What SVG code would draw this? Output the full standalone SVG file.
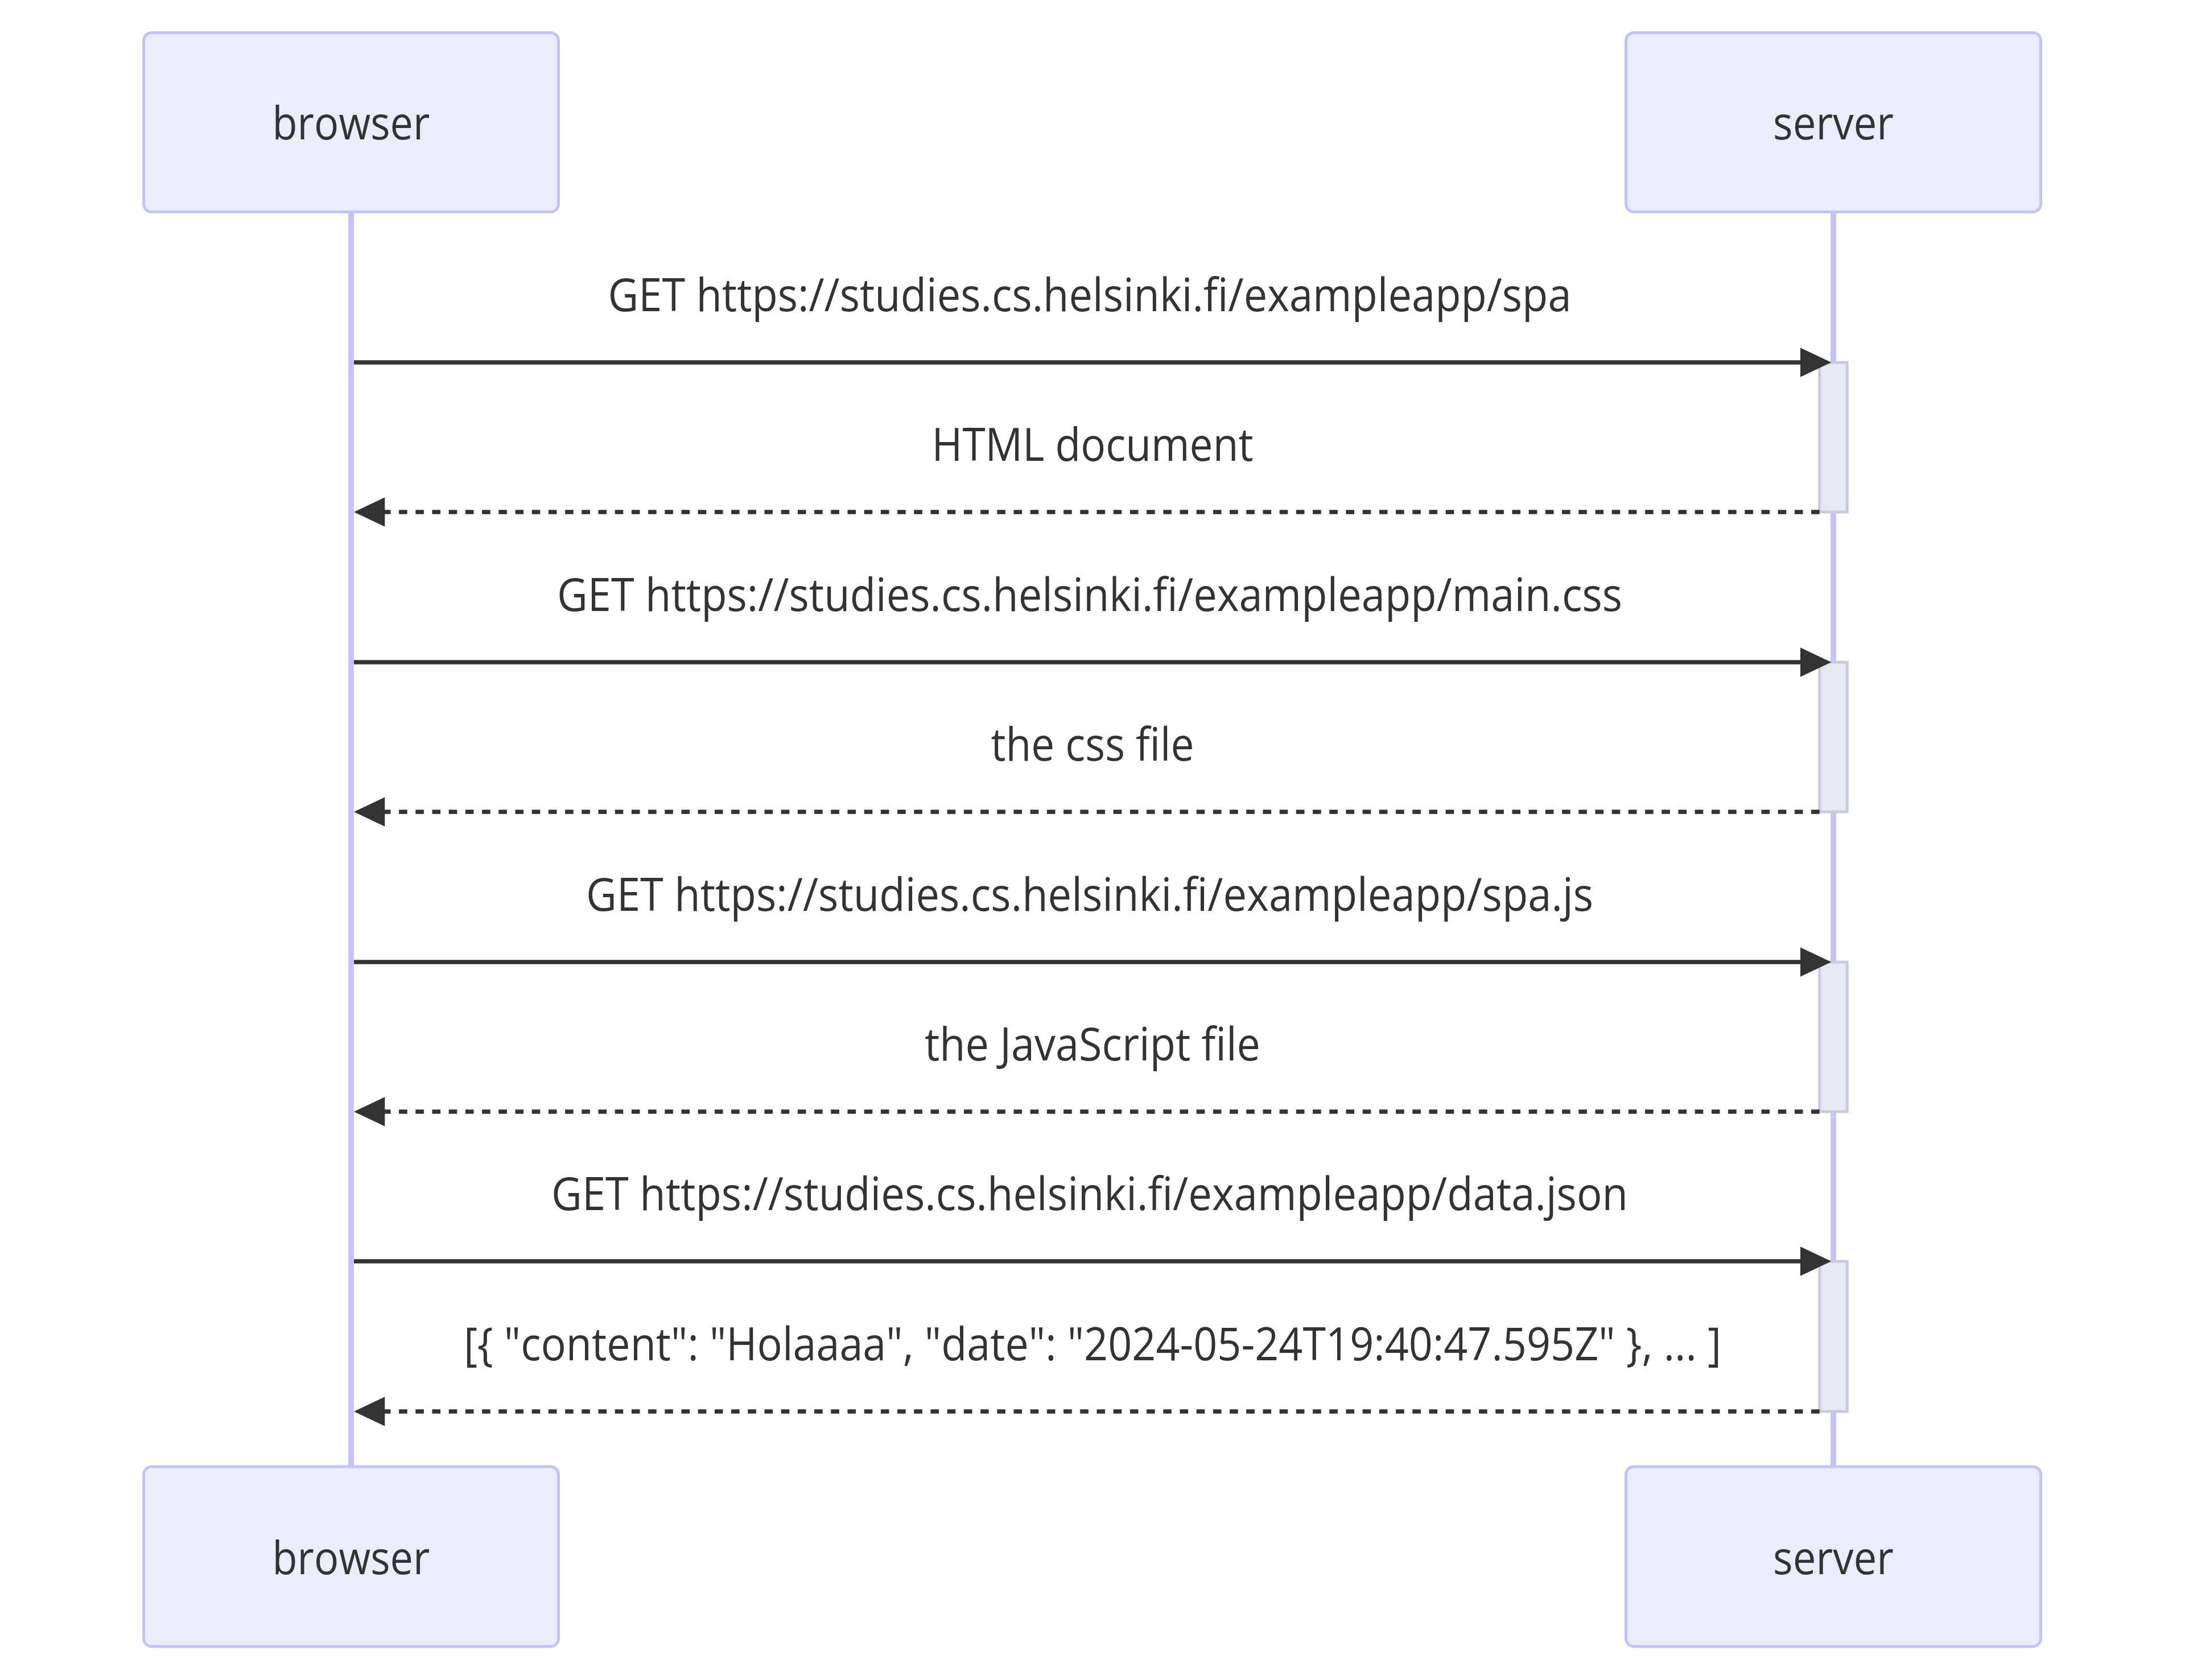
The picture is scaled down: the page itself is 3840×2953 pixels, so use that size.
<svg xmlns="http://www.w3.org/2000/svg" width="3840" height="2953" viewBox="0 0 3840 2953">
  <style>
    .actor { fill: #ECECFF; stroke: #C3C3F7; stroke-width: 4.9; }
    .actor-label { font-family: "Open Sans", "Noto Sans", sans-serif; font-size: 80px; fill: #333333; text-anchor: middle; }
    .lifeline { stroke: #C3C3F7; stroke-width: 9.7; fill: none; }
    .activation { fill: #E8E8F3; stroke: #CACADE; stroke-width: 4.9; }
    .msg { stroke: #333333; stroke-width: 7.3; fill: none; marker-end: url(#arrowhead); }
    .msg-dashed { stroke-dasharray: 14.6 14.6; }
    .msg-label { font-family: "Open Sans", "Noto Sans", sans-serif; font-size: 80px; fill: #333333; text-anchor: middle; }
  </style>
  <defs>
    <marker id="arrowhead" markerUnits="userSpaceOnUse" markerWidth="60" markerHeight="60" refX="41" refY="25.7" orient="auto" overflow="visible">
      <path d="M 0 0 L 54.3 25.7 L 0 51.4 z" fill="#333333"/>
    </marker>
  </defs>

  <rect width="3840" height="2953" fill="#FFFFFF"/>

  <!-- lifelines -->
  <g id="lifelines">
    <line class="lifeline" x1="617" y1="375" x2="617" y2="2578"/>
    <line class="lifeline" x1="3222" y1="375" x2="3222" y2="2578"/>
  </g>

  <!-- participants, top row -->
  <g id="actor-browser-top">
    <rect class="actor" x="252.5" y="57.5" width="729" height="315" rx="14" ry="14"/>
    <text class="actor-label" x="617" y="245" textLength="277" lengthAdjust="spacingAndGlyphs">browser</text>
  </g>
  <g id="actor-server-top">
    <rect class="actor" x="2857.5" y="57.5" width="729" height="315" rx="14" ry="14"/>
    <text class="actor-label" x="3222" y="245" textLength="212" lengthAdjust="spacingAndGlyphs">server</text>
  </g>

  <!-- participants, bottom row -->
  <g id="actor-browser-bottom">
    <rect class="actor" x="252.5" y="2578" width="729" height="316" rx="14" ry="14"/>
    <text class="actor-label" x="617" y="2766.5" textLength="277" lengthAdjust="spacingAndGlyphs">browser</text>
  </g>
  <g id="actor-server-bottom">
    <rect class="actor" x="2857.5" y="2578" width="729" height="316" rx="14" ry="14"/>
    <text class="actor-label" x="3222" y="2766.5" textLength="212" lengthAdjust="spacingAndGlyphs">server</text>
  </g>

  <!-- server activations -->
  <g id="activations">
    <rect class="activation" x="3197.7" y="637" width="48.6" height="263"/>
    <rect class="activation" x="3197.7" y="1164" width="48.6" height="263"/>
    <rect class="activation" x="3197.7" y="1691" width="48.6" height="263"/>
    <rect class="activation" x="3197.7" y="2217" width="48.6" height="264"/>
  </g>

  <!-- messages -->
  <g id="connectors">
    <g id="msg-1">
      <text class="msg-label" x="1915" y="547" textLength="1693" lengthAdjust="spacingAndGlyphs">GET https://studies.cs.helsinki.fi/exampleapp/spa</text>
      <line class="msg" x1="622" y1="637" x2="3205" y2="637"/>
    </g>
    <g id="msg-2">
      <text class="msg-label" x="1920" y="810" textLength="565" lengthAdjust="spacingAndGlyphs">HTML document</text>
      <line class="msg msg-dashed" x1="3197.7" y1="900" x2="635.3" y2="900"/>
    </g>
    <g id="msg-3">
      <text class="msg-label" x="1915" y="1074" textLength="1872" lengthAdjust="spacingAndGlyphs">GET https://studies.cs.helsinki.fi/exampleapp/main.css</text>
      <line class="msg" x1="622" y1="1164" x2="3205" y2="1164"/>
    </g>
    <g id="msg-4">
      <text class="msg-label" x="1920" y="1337" textLength="357" lengthAdjust="spacingAndGlyphs">the css file</text>
      <line class="msg msg-dashed" x1="3197.7" y1="1427" x2="635.3" y2="1427"/>
    </g>
    <g id="msg-5">
      <text class="msg-label" x="1915" y="1601" textLength="1770" lengthAdjust="spacingAndGlyphs">GET https://studies.cs.helsinki.fi/exampleapp/spa.js</text>
      <line class="msg" x1="622" y1="1691" x2="3205" y2="1691"/>
    </g>
    <g id="msg-6">
      <text class="msg-label" x="1920" y="1864" textLength="590" lengthAdjust="spacingAndGlyphs">the JavaScript file</text>
      <line class="msg msg-dashed" x1="3197.7" y1="1954" x2="635.3" y2="1954"/>
    </g>
    <g id="msg-7">
      <text class="msg-label" x="1915" y="2127" textLength="1892" lengthAdjust="spacingAndGlyphs">GET https://studies.cs.helsinki.fi/exampleapp/data.json</text>
      <line class="msg" x1="622" y1="2217" x2="3205" y2="2217"/>
    </g>
    <g id="msg-8">
      <text class="msg-label" x="1920" y="2391" textLength="2210" lengthAdjust="spacingAndGlyphs">[{ "content": "Holaaaa", "date": "2024-05-24T19:40:47.595Z" }, ... ]</text>
      <line class="msg msg-dashed" x1="3197.7" y1="2481" x2="635.3" y2="2481"/>
    </g>
  </g>
</svg>
